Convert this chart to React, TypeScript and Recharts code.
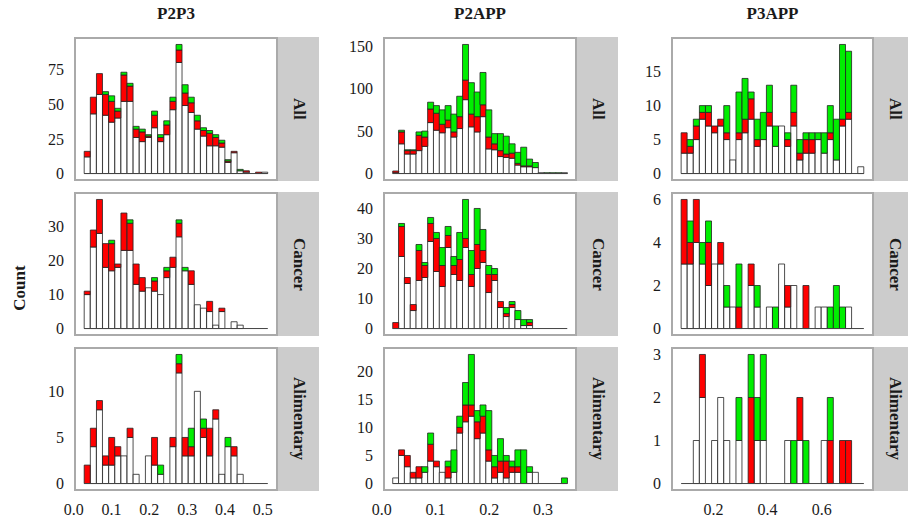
import React from "react";
import { BarChart, Bar, XAxis, YAxis, ReferenceLine } from "recharts";

const FONT = '"Liberation Serif", "DejaVu Serif", serif';

const groups = ["P2P3", "P2APP", "P3APP"];
const cohorts = ["All", "Cancer", "Alimentary"];

// histogram bin centres, one list per column
const binsP2P3 = [
  0.0358, 0.052, 0.0682, 0.0843, 0.1005, 0.1167, 0.1329, 0.1491, 0.1652, 0.1814,
  0.1976, 0.2138, 0.23, 0.2461, 0.2623, 0.2785, 0.2947, 0.3109, 0.327, 0.3432,
  0.3594, 0.3756, 0.3918, 0.4079, 0.4241, 0.4403, 0.4565, 0.4727, 0.4888, 0.505,
];
const binsP2APP = [
  0.0258, 0.0366, 0.0474, 0.0583, 0.0691, 0.0799, 0.0907, 0.1015, 0.1124, 0.1232,
  0.134, 0.1448, 0.1556, 0.1665, 0.1773, 0.1881, 0.1989, 0.2097, 0.2206, 0.2314,
  0.2422, 0.253, 0.2638, 0.2747, 0.2855, 0.2963, 0.3071, 0.3179, 0.3288, 0.3396,
];
const binsP3APP = [
  0.0921, 0.1146, 0.1371, 0.1596, 0.1821, 0.2046, 0.2271, 0.2496, 0.2721, 0.2946,
  0.3171, 0.3396, 0.3621, 0.3846, 0.4071, 0.4296, 0.4521, 0.4746, 0.4971, 0.5196,
  0.5421, 0.5646, 0.5871, 0.6096, 0.6321, 0.6546, 0.6771, 0.6996, 0.7221, 0.7446,
];

// counts: white / red / green per bin
const p2p3AllWhite = [12, 43, 57, 42, 37, 40, 52, 52, 26, 23, 26, 33, 23, 28, 46, 80, 49, 44, 32, 27, 20, 20, 19, 8, 15, 2, 1, 0, 0, 1];
const p2p3AllRed = [4, 12, 15, 15, 15, 5, 19, 11, 6, 7, 1, 9, 3, 7, 6, 9, 9, 7, 6, 4, 9, 6, 3, 1, 1, 0, 1, 0, 1, 0];
const p2p3AllGreen = [0, 0, 0, 2, 4, 2, 2, 2, 2, 2, 1, 3, 2, 3, 3, 4, 6, 4, 4, 2, 2, 2, 2, 1, 0, 1, 0, 0, 0, 0];

const p2p3CancerWhite = [10, 24, 28, 18, 17, 18, 23, 23, 13, 11, 12, 11, 10, 15, 18, 27, 17, 13, 7, 6, 5, 1, 5, 0, 2, 1, 0, 0, 0, 0];
const p2p3CancerRed = [1, 5, 10, 7, 8, 1, 11, 8, 6, 4, 0, 3, 0, 2, 3, 4, 0, 4, 0, 0, 3, 0, 1, 0, 0, 0, 0, 0, 0, 0];
const p2p3CancerGreen = [0, 0, 0, 0, 1, 0, 0, 1, 0, 0, 0, 1, 0, 1, 0, 1, 1, 0, 0, 0, 0, 0, 0, 0, 0, 0, 0, 0, 0, 0];

const p2p3AlimWhite = [0, 4, 8, 2, 2, 3, 3, 5, 1, 0, 3, 2, 1, 0, 4, 12, 3, 3, 10, 5, 3, 7, 1, 4, 3, 1, 0, 0, 0, 0];
const p2p3AlimRed = [2, 2, 1, 1, 3, 1, 0, 1, 0, 0, 0, 3, 0, 0, 1, 1, 2, 1, 0, 1, 3, 1, 0, 0, 1, 0, 0, 0, 0, 0];
const p2p3AlimGreen = [0, 0, 0, 0, 0, 0, 0, 0, 0, 0, 0, 0, 1, 0, 0, 1, 0, 2, 0, 1, 0, 0, 0, 1, 0, 0, 0, 0, 0, 0];

const p2appAllWhite = [1, 35, 23, 23, 27, 32, 60, 51, 48, 54, 43, 53, 87, 55, 49, 67, 29, 28, 20, 19, 18, 10, 8, 8, 7, 1, 0, 0, 0, 1];
const p2appAllRed = [2, 14, 4, 4, 18, 11, 16, 20, 10, 9, 6, 14, 23, 15, 18, 14, 14, 7, 7, 4, 6, 2, 1, 1, 0, 0, 0, 0, 0, 0];
const p2appAllGreen = [0, 2, 1, 1, 4, 7, 8, 9, 17, 17, 21, 24, 42, 37, 29, 38, 32, 12, 20, 21, 11, 13, 22, 8, 6, 0, 1, 1, 1, 0];

const p2appCancerWhite = [0, 24, 15, 6, 16, 17, 29, 19, 14, 27, 18, 16, 27, 14, 20, 22, 12, 16, 7, 4, 7, 3, 1, 1, 0, 0, 0, 0, 0, 0];
const p2appCancerRed = [2, 10, 2, 2, 10, 4, 6, 11, 7, 4, 3, 7, 3, 4, 8, 4, 6, 2, 2, 1, 1, 0, 0, 1, 0, 0, 0, 0, 0, 0];
const p2appCancerGreen = [0, 1, 0, 0, 2, 1, 2, 2, 6, 3, 3, 9, 13, 8, 12, 7, 3, 2, 0, 2, 1, 3, 2, 1, 0, 0, 0, 0, 0, 0];

const p2appAlimWhite = [1, 5, 3, 1, 1, 2, 4, 3, 2, 1, 2, 9, 11, 12, 8, 9, 4, 1, 2, 1, 2, 2, 0, 2, 2, 0, 0, 0, 0, 0];
const p2appAlimRed = [0, 1, 2, 1, 2, 0, 3, 1, 0, 2, 0, 1, 3, 2, 3, 3, 2, 2, 2, 3, 1, 1, 0, 0, 0, 0, 0, 0, 0, 0];
const p2appAlimGreen = [0, 0, 0, 0, 0, 1, 2, 0, 0, 1, 4, 2, 4, 9, 2, 2, 7, 2, 4, 1, 1, 3, 6, 1, 0, 0, 0, 0, 0, 1];

const p3appAllWhite = [3, 3, 5, 8, 7, 6, 7, 5, 2, 5, 6, 8, 4, 5, 7, 4, 7, 4, 7, 2, 3, 3, 5, 3, 5, 2, 7, 8, 0, 1];
const p3appAllRed = [3, 1, 2, 1, 2, 1, 1, 1, 0, 1, 2, 3, 1, 0, 2, 0, 0, 1, 2, 1, 2, 2, 0, 0, 1, 0, 1, 1, 0, 0];
const p3appAllGreen = [0, 1, 1, 1, 1, 0, 0, 4, 0, 6, 6, 1, 3, 4, 4, 3, 0, 1, 4, 2, 1, 1, 1, 3, 4, 6, 11, 9, 0, 0];

const p3appCancerWhite = [3, 3, 4, 3, 2, 3, 3, 1, 1, 0, 0, 2, 1, 0, 1, 0, 3, 1, 2, 0, 0, 0, 1, 1, 0, 0, 0, 1, 0, 0];
const p3appCancerRed = [3, 1, 2, 0, 2, 0, 1, 0, 0, 1, 0, 1, 0, 0, 0, 0, 0, 1, 0, 0, 2, 0, 0, 0, 0, 0, 0, 0, 0, 0];
const p3appCancerGreen = [0, 1, 0, 1, 1, 0, 0, 1, 0, 2, 0, 0, 1, 0, 0, 1, 0, 0, 0, 0, 0, 0, 0, 0, 1, 2, 1, 0, 0, 0];

const p3appAlimWhite = [0, 0, 1, 2, 0, 1, 2, 1, 0, 1, 0, 0, 1, 1, 0, 0, 0, 1, 0, 1, 0, 0, 0, 1, 0, 0, 0, 0, 0, 0];
const p3appAlimRed = [0, 0, 0, 1, 0, 0, 0, 0, 0, 0, 0, 2, 0, 0, 0, 0, 0, 0, 0, 1, 0, 0, 0, 0, 1, 0, 1, 1, 0, 0];
const p3appAlimGreen = [0, 0, 0, 0, 0, 0, 0, 0, 0, 1, 0, 1, 1, 2, 0, 0, 0, 0, 1, 0, 1, 0, 0, 0, 1, 0, 0, 0, 0, 0];

const xTicksP2P3 = [0, 0.1, 0.2, 0.3, 0.4, 0.5];
const xTicksP2APP = [0, 0.1, 0.2, 0.3];
const xTicksP3APP = [0.2, 0.4, 0.6];

const yTicksP2P3 = [[0, 25, 50, 75], [0, 10, 20, 30], [0, 5, 10]];
const yTicksP2APP = [[0, 50, 100, 150], [0, 10, 20, 30, 40], [0, 5, 10, 15, 20]];
const yTicksP3APP = [[0, 5, 10, 15], [0, 2, 4, 6], [0, 1, 2, 3]];

const columns = [
  {
    bins: binsP2P3,
    xTicks: xTicksP2P3,
    yTicks: yTicksP2P3,
    series: [
      [p2p3AllWhite, p2p3AllRed, p2p3AllGreen],
      [p2p3CancerWhite, p2p3CancerRed, p2p3CancerGreen],
      [p2p3AlimWhite, p2p3AlimRed, p2p3AlimGreen],
    ],
    chartLeft: 0,
    plotLeft: 75,
    plotRight: 277,
  },
  {
    bins: binsP2APP,
    xTicks: xTicksP2APP,
    yTicks: yTicksP2APP,
    series: [
      [p2appAllWhite, p2appAllRed, p2appAllGreen],
      [p2appCancerWhite, p2appCancerRed, p2appCancerGreen],
      [p2appAlimWhite, p2appAlimRed, p2appAlimGreen],
    ],
    chartLeft: 320,
    plotLeft: 384,
    plotRight: 576,
  },
  {
    bins: binsP3APP,
    xTicks: xTicksP3APP,
    yTicks: yTicksP3APP,
    series: [
      [p3appAllWhite, p3appAllRed, p3appAllGreen],
      [p3appCancerWhite, p3appCancerRed, p3appCancerGreen],
      [p3appAlimWhite, p3appAlimRed, p3appAlimGreen],
    ],
    chartLeft: 620,
    plotLeft: 672,
    plotRight: 873,
  },
];

const rowTops = [38, 193, 348];
const PLOT_H = 142;
const STRIP_W = 41;
const X_AXIS_H = 31;
const SPARE = 10; // room above/below the plot so edge tick labels are not clipped

const tickStyle = { fill: "#1a1a1a", fontSize: 16, fontFamily: FONT };

function Panel({ col, row }: { col: number; row: number }) {
  const c = columns[col];
  const [white, red, green] = c.series[row];
  const data = c.bins.map((x, i) => ({ x, w: white[i], r: red[i], g: green[i] }));
  const half = (c.bins[1] - c.bins[0]) / 2;
  const lo = c.bins[0] - half;
  const hi = c.bins[c.bins.length - 1] + half;
  const pad = (hi - lo) * 0.05;
  const maxY = Math.max(...data.map((d) => d.w + d.r + d.g));
  const showX = row === 2;
  const yAxisW = c.plotLeft - c.chartLeft;
  const plotW = c.plotRight - c.plotLeft;
  const top = rowTops[row];

  return (
    <>
      <div style={{ position: "absolute", left: c.chartLeft, top: top - SPARE }}>
        <BarChart
          width={yAxisW + plotW}
          height={SPARE + PLOT_H + (showX ? X_AXIS_H : SPARE)}
          data={data}
          margin={{ top: SPARE, right: 0, bottom: showX ? 0 : SPARE, left: 0 }}
          barCategoryGap={0}
          barGap={0}
        >
          <XAxis
            type="number"
            dataKey="x"
            domain={[lo - pad, hi + pad]}
            allowDataOverflow
            ticks={c.xTicks}
            interval={0}
            tickFormatter={(v: number) => v.toFixed(1)}
            hide={!showX}
            height={showX ? X_AXIS_H : 0}
            axisLine={false}
            tickLine={false}
            tickSize={0}
            tickMargin={14}
            tick={tickStyle}
          />
          <YAxis
            type="number"
            domain={[-0.05 * maxY, 1.05 * maxY]}
            allowDataOverflow
            ticks={c.yTicks[row]}
            interval={0}
            width={yAxisW}
            axisLine={false}
            tickLine={false}
            tickSize={0}
            tickMargin={11}
            tick={tickStyle}
          />
          <ReferenceLine
            segment={[
              { x: lo, y: 0 },
              { x: hi, y: 0 },
            ]}
            stroke="#444"
            strokeWidth={1}
          />
          <Bar dataKey="w" stackId="s" fill="#ffffff" stroke="#222" strokeWidth={0.8} isAnimationActive={false} />
          <Bar dataKey="r" stackId="s" fill="#ff0000" stroke="#222" strokeWidth={0.8} isAnimationActive={false} />
          <Bar dataKey="g" stackId="s" fill="#00ee00" stroke="#222" strokeWidth={0.8} isAnimationActive={false} />
        </BarChart>
      </div>
      {/* panel frame */}
      <div
        style={{
          position: "absolute",
          left: c.plotLeft - 1,
          top: top - 1,
          width: plotW + 2,
          height: PLOT_H + 2,
          border: "2px solid #aaaaaa",
          boxSizing: "border-box",
          pointerEvents: "none",
        }}
      />
      {/* strip */}
      <div
        style={{
          position: "absolute",
          left: c.plotRight + 1,
          top: top - 1,
          width: STRIP_W,
          height: PLOT_H + 2,
          background: "#cccccc",
          display: "flex",
          alignItems: "center",
          justifyContent: "center",
        }}
      >
        <span
          style={{
            writingMode: "vertical-rl",
            fontFamily: FONT,
            fontWeight: "bold",
            fontSize: 17,
            color: "#1a1a1a",
          }}
        >
          {cohorts[row]}
        </span>
      </div>
    </>
  );
}

export default function App() {
  return (
    <div
      style={{
        position: "absolute",
        left: 0,
        top: 0,
        width: 908,
        height: 521,
        overflow: "hidden",
        background: "#ffffff",
      }}
    >
      {columns.map((c, ci) => (
        <div
          key={groups[ci]}
          style={{
            position: "absolute",
            left: c.plotLeft,
            width: c.plotRight - c.plotLeft,
            top: 4,
            textAlign: "center",
            fontFamily: FONT,
            fontWeight: "bold",
            fontSize: 17,
            color: "#1a1a1a",
          }}
        >
          {groups[ci]}
        </div>
      ))}
      <div
        style={{
          position: "absolute",
          left: 10,
          top: 288,
          transform: "translate(0, -50%) rotate(180deg)",
          writingMode: "vertical-rl",
          fontFamily: FONT,
          fontWeight: "bold",
          fontSize: 17,
          color: "#1a1a1a",
        }}
      >
        Count
      </div>
      {columns.map((c, ci) =>
        cohorts.map((r, ri) => <Panel key={`${ci}-${ri}`} col={ci} row={ri} />)
      )}
    </div>
  );
}
